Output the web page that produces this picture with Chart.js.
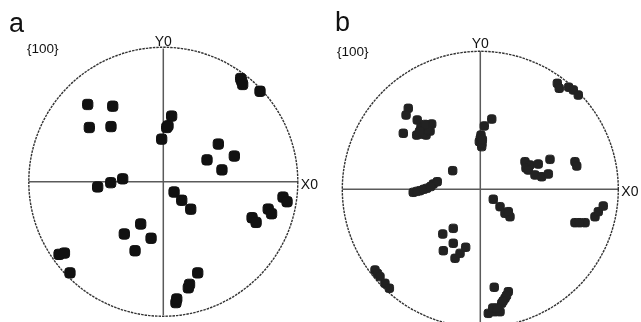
<!DOCTYPE html>
<html><head><meta charset="utf-8">
<script src="https://cdn.jsdelivr.net/npm/chart.js@4/dist/chart.umd.min.js"></script>
<style>
html,body{margin:0;padding:0;width:641px;height:322px;overflow:hidden;background:#fff;}
canvas{position:absolute;top:0;}
#ca{left:0;}
#cb{left:320px;}
</style></head>
<body>
<canvas id="ca" width="320" height="322"></canvas>
<canvas id="cb" width="321" height="340"></canvas>
<script>
// Pole figure {100}, normalized coordinates (unit circle), panel a
const polesA = [
  [0.575,0.775],[0.583,0.755],[0.59,0.73],[0.719,0.679],
  [-0.562,0.58],[-0.376,0.567],[-0.55,0.407],[-0.389,0.414],
  [0.062,0.493],[0.025,0.407],[0.035,0.42],[-0.012,0.32],
  [0.409,0.283],[0.528,0.193],[0.325,0.164],[0.436,0.089],
  [-0.488,-0.039],[-0.391,-0.007],[-0.302,0.022],
  [0.08,-0.077],[0.137,-0.139],[0.204,-0.206],
  [0.66,-0.27],[0.69,-0.305],[0.78,-0.205],[0.805,-0.24],[0.89,-0.115],[0.92,-0.15],
  [-0.168,-0.317],[-0.29,-0.392],[-0.091,-0.424],[-0.21,-0.518],
  [-0.775,-0.545],[-0.735,-0.535],[-0.694,-0.684],
  [0.256,-0.684],[0.186,-0.796],[0.195,-0.77],[0.094,-0.907],[0.1,-0.88]
];
// panel b
const polesB = [
  [0.558,0.768],[0.572,0.732],[0.64,0.74],[0.674,0.72],[0.71,0.683],
  [-0.522,0.587],[-0.538,0.538],[-0.457,0.502],[-0.388,0.466],[-0.352,0.473],
  [-0.437,0.417],[-0.393,0.393],[-0.558,0.406],[-0.461,0.393],[-0.408,0.445],[-0.364,0.422],
  [-0.43,0.45],[-0.42,0.40],[-0.38,0.43],[-0.40,0.47],[-0.44,0.42],
  [0.083,0.509],[0.029,0.459],[0.005,0.393],[-0.007,0.345],[0.01,0.309],
  [0.0,0.37],[0.012,0.33],[0.015,0.36],
  [0.324,0.2],[0.36,0.176],[0.331,0.154],[0.348,0.14],[0.396,0.104],[0.445,0.091],
  [0.493,0.111],[0.42,0.183],[0.505,0.217],[0.686,0.2],[0.699,0.169],
  [-0.2,0.135],
  [-0.486,-0.022],[-0.437,-0.01],[-0.388,0.007],[-0.341,0.038],[-0.312,0.055],[-0.46,-0.015],[-0.41,0.0],[-0.36,0.02],
  [0.094,-0.072],[0.143,-0.126],[0.179,-0.174],[0.215,-0.199],[0.203,-0.162],
  [0.686,-0.242],[0.759,-0.242],[0.831,-0.199],[0.855,-0.162],[0.891,-0.121],[0.72,-0.242],
  [-0.272,-0.324],[-0.196,-0.283],[-0.196,-0.391],[-0.268,-0.445],[-0.183,-0.5],[-0.147,-0.464],[-0.106,-0.42],
  [-0.763,-0.585],[-0.745,-0.61],[-0.727,-0.633],[-0.691,-0.681],[-0.659,-0.717],
  [0.101,-0.71],[0.203,-0.742],[0.179,-0.79],[0.155,-0.826],[0.19,-0.77],[0.165,-0.81],
  [0.107,-0.887],[0.058,-0.899],[0.143,-0.887],[0.09,-0.86],[0.12,-0.86]
];
const panelLabels = ['a','b'];
const familyLabel = '{100}';
const axisLabels = ['Y0','X0'];

const FONT = '"Liberation Sans", Arial, sans-serif';

const stereoPlugin = {
  id:'stereo',
  beforeDatasetsDraw(chart, args, opts){
    const ctx = chart.ctx, xs = chart.scales.x, ys = chart.scales.y;
    const cx = xs.getPixelForValue(0), cy = ys.getPixelForValue(0);
    const r = xs.getPixelForValue(1) - cx;
    ctx.save();
    ctx.strokeStyle = '#5a5a5a'; ctx.lineWidth = 1.5;
    ctx.beginPath();
    ctx.moveTo(xs.getPixelForValue(-1), cy); ctx.lineTo(xs.getPixelForValue(1), cy);
    ctx.moveTo(cx, ys.getPixelForValue(1)); ctx.lineTo(cx, ys.getPixelForValue(-1));
    ctx.stroke();
    ctx.strokeStyle = '#333'; ctx.lineWidth = 1.4; ctx.setLineDash([2.5,1]);
    ctx.beginPath(); ctx.arc(cx, cy, r, 0, Math.PI*2); ctx.stroke();
    ctx.setLineDash([]);
    ctx.fillStyle = '#111';
    ctx.textBaseline = 'alphabetic';
    ctx.font = '14px ' + FONT; ctx.textAlign = 'center';
    ctx.fillText(axisLabels[0], cx, ys.getPixelForValue(1) - 3);
    ctx.textAlign = 'left';
    ctx.fillText(axisLabels[1], xs.getPixelForValue(1) + 3, cy + 7);
    ctx.font = '13.5px ' + FONT;
    ctx.fillText(familyLabel, opts.famX, opts.famY);
    ctx.font = '27px ' + FONT;
    ctx.fillText(opts.panel, opts.panX, opts.panY);
    ctx.restore();
  }
};

function makeChart(id, poles, color, radius, pad, panel, famX, famY, panX, panY){
  new Chart(document.getElementById(id), {
    type:'scatter',
    data:{datasets:[{
      data: poles.map(p=>({x:p[0], y:p[1]})),
      pointStyle:'rectRounded', radius:radius, hoverRadius:radius,
      backgroundColor:color, borderColor:color, borderWidth:1, clip:false
    }]},
    options:{
      responsive:false, animation:false, events:[],
      layout:{padding:pad},
      plugins:{legend:{display:false}, tooltip:{enabled:false},
        stereo:{panel, famX, famY, panX, panY}},
      scales:{
        x:{type:'linear', min:-1, max:1, display:false},
        y:{type:'linear', min:-1, max:1, display:false}
      }
    },
    plugins:[stereoPlugin]
  });
}

makeChart('ca', polesA, '#111', 6.0, {left:28.8, right:22.2, top:48.5, bottom:4.5}, panelLabels[0], 27, 53, 9, 32);
makeChart('cb', polesB, '#222', 4.9, {left:22.3, right:22.7, top:51.3, bottom:12.7}, panelLabels[1], 17, 56, 15, 31);
</script>
</body></html>
